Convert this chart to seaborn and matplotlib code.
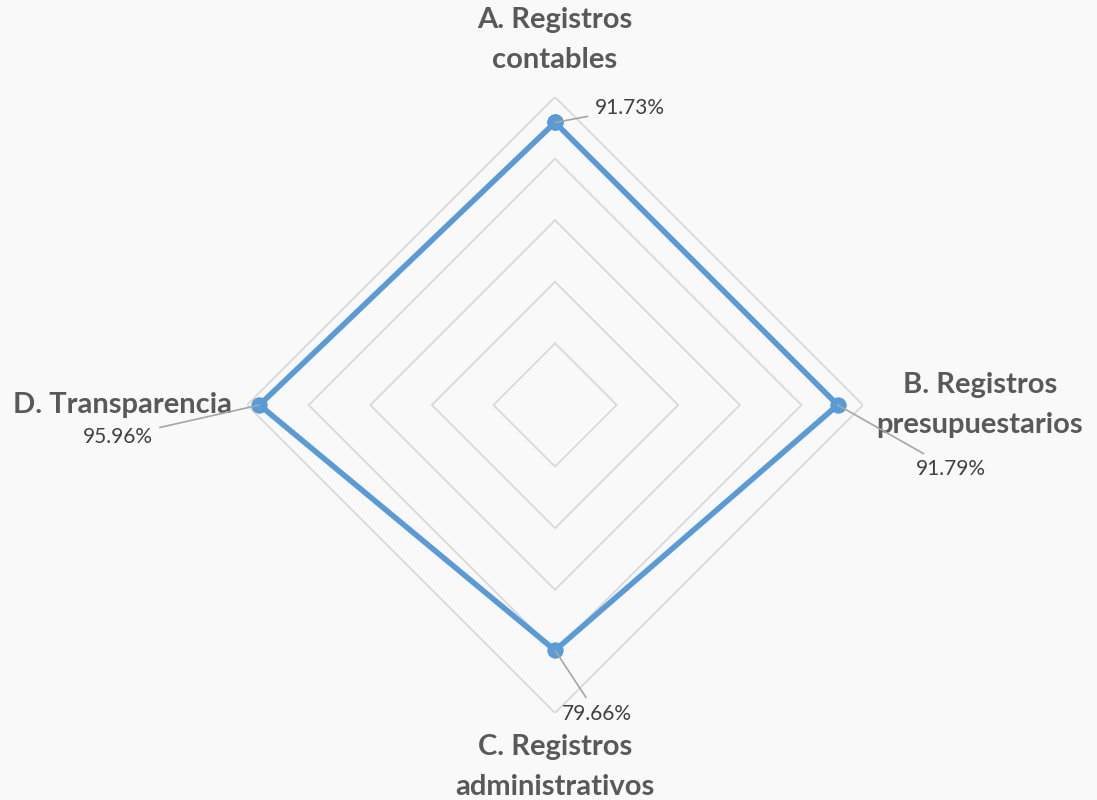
import numpy as np
import pandas as pd
import matplotlib
matplotlib.use("Agg")
import matplotlib.pyplot as plt
import seaborn as sns

# datos
categorias = ["A. Registros\ncontables", "B. Registros\npresupuestarios",
              "C. Registros\nadministrativos", "D. Transparencia"]
valores = [91.73, 91.79, 79.66, 95.96]
niveles = [20, 40, 60, 80, 100]

sns.set_theme(style="white")
plt.rcParams['font.family'] = ['Lato', 'DejaVu Sans']

fondo = '#F9F9F9'
azul = '#5B9BD5'

angulos = np.linspace(0, 2 * np.pi, len(categorias), endpoint=False)

fig = plt.figure(figsize=(10.97, 8), dpi=100, facecolor=fondo)
ax = fig.add_axes([0.2252, 0.10875, 0.5615, 0.77], projection='polar')
ax.set_facecolor(fondo)
ax.set_theta_zero_location('N')
ax.set_theta_direction(-1)
ax.set_ylim(0, 100)
ax.grid(False)
ax.spines['polar'].set_visible(False)
ax.set_xticks([])
ax.set_yticks([])
ax.patch.set_alpha(0)

# rejilla en rombos
ang_cerrado = np.append(angulos, 2 * np.pi)
for nv in niveles:
    ax.plot(ang_cerrado, [nv] * len(ang_cerrado), color='#D9D9D9', lw=1.3, zorder=1)

df = pd.DataFrame({'theta': ang_cerrado, 'r': valores + [valores[0]]})
sns.lineplot(data=df, x='theta', y='r', ax=ax, sort=False, color=azul, lw=4,
             marker='o', markersize=11, markeredgecolor=azul, zorder=3)
ax.set_xlabel('')
ax.set_ylabel('')

# etiquetas de categorias
pos_cat = [(118.5, 'center', 'center'), (138, 'center', 'center'),
           (117.5, 'center', 'center'), (105, 'right', 'center')]
for a, cat, (r, ha, va) in zip(angulos, categorias, pos_cat):
    ax.text(a, r, cat, ha=ha, va=va, fontsize=21, fontweight='bold',
            color='#595959', linespacing=1.65)

# etiquetas de datos con linea guia
offs = [(40, 14, 'left'), (78, -64, 'left'), (42, -64, 'center'), (-107, -32, 'right')]
for a, v, (dx, dy, ha) in zip(angulos, valores, offs):
    ax.annotate(f"{v:.2f}%", xy=(a, v), xytext=(dx, dy), textcoords='offset pixels',
                ha=ha, va='center', fontsize=15, color='#404040',
                arrowprops=dict(arrowstyle='-', color='#A6A6A6', lw=1.2,
                                shrinkA=3, shrinkB=0))

fig.savefig('out.png', dpi=100, facecolor=fondo)
